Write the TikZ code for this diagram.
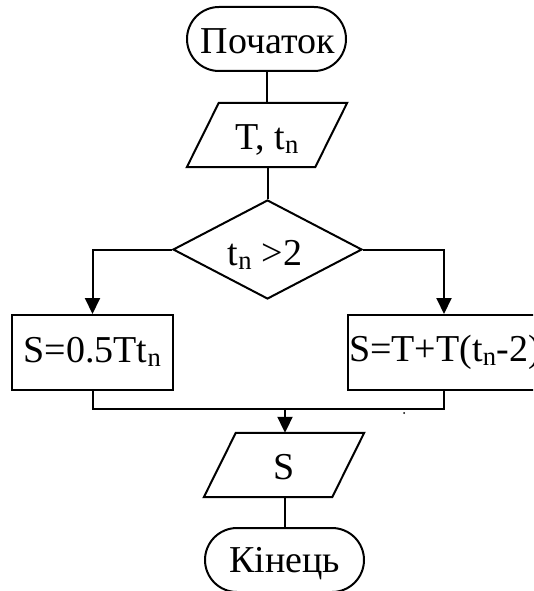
\documentclass[tikz,border=0pt]{standalone}
\usepackage{fontspec}
\setmainfont{Liberation Serif}
\usetikzlibrary{shapes.geometric,shapes.misc,arrows.meta,calc}
\begin{document}
\begin{tikzpicture}[x=1pt,y=-1pt,
  every node/.style={font=\fontsize{38}{44}\selectfont, inner sep=0pt},
  line/.style={line width=2pt},
  term/.style={draw, line width=2pt, rounded rectangle, minimum width=159pt, minimum height=64pt},
  iobox/.style={rectangle, minimum width=160pt, minimum height=64pt},
  proc/.style={draw, line width=2pt, rectangle, minimum height=75pt},
  dec/.style={draw, line width=2pt, diamond, minimum width=189pt, minimum height=99pt},
  arr/.style={line width=2pt, -{Triangle[length=16pt,width=15pt]}}
]
\useasboundingbox (0,0) rectangle (533,591);
\clip (0,0) rectangle (533,591);
\node[term] (start) at (266.5,39) {};
\node (starttxt) at (268,41) {Початок};
\node[iobox] (inp) at (267,135) {};
\draw[line,line join=miter] ($(inp.north west)+(32,0)$) -- (inp.north east) -- ($(inp.south east)-(32,0)$) -- (inp.south west) -- cycle;
\node (inptxt) at (267,140) {T, t\textsubscript{n}};
\node[dec] (cond) at (267.5,249.5) {};
\node (condtxt) at (265,255) {t\textsubscript{n} >2};
\node[proc, minimum width=161pt] (left) at (92.5,352.5) {};
\node (lefttxt) at (92.5,352) {S=0.5Tt\textsubscript{n}};
\node[proc, minimum width=192pt] (right) at (444,352.5) {};
\node[anchor=west] (righttxt) at (349,352) {S=T+T(t\textsubscript{n}-2)};
\coordinate (merge) at (285,409);
\node[iobox] (out) at (284,465) {};
\draw[line,line join=miter] ($(out.north west)+(32,0)$) -- (out.north east) -- ($(out.south east)-(32,0)$) -- (out.south west) -- cycle;
\node (outtxt) at (284,467) {S};
\node[term] (end) at (284.5,560) {};
\node (endtxt) at (284.5,564) {Кінець};

\draw[line] (start.south) -- (inp.north -| start.south);
\draw[line] (inp.south -| cond.north) -- (cond.north);
\draw[arr] (cond.west) -| (left.north);
\draw[arr] (cond.east) -| (right.north);
\draw[line] (left.south) |- (merge);
\draw[line] (right.south) |- (merge);
\draw[arr] (merge) -- (merge |- out.north);
\draw[line] (out.south -| end.north) -- (end.north);
\fill (404,413) circle (1pt);
\end{tikzpicture}
\end{document}
